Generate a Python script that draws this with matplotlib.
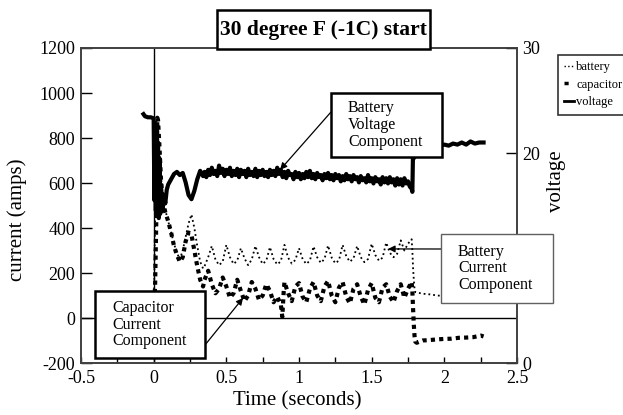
import matplotlib
matplotlib.use("Agg")
import matplotlib.pyplot as plt
from matplotlib.lines import Line2D
from matplotlib.patches import Rectangle
from matplotlib.ticker import MultipleLocator, FormatStrFormatter

plt.rcParams['font.family'] = ['Liberation Serif', 'DejaVu Serif']
plt.rcParams['axes.unicode_minus'] = False

# voltage (right axis, volts)
t_volt = [-0.07, -0.06, -0.04, -0.02, 0.0, 0.005, 0.01, 0.015, 0.02, 0.025,
          0.03, 0.035, 0.04, 0.045, 0.05, 0.06, 0.07, 0.08, 0.09, 0.10,
          0.12, 0.14, 0.16, 0.18, 0.20, 0.22, 0.24, 0.26, 0.28, 0.30,
          0.32, 0.34,
          0.3500, 0.3625, 0.3750, 0.3875, 0.4000, 0.4125, 0.4250, 0.4375,
          0.4500, 0.4625, 0.4750, 0.4875, 0.5000, 0.5125, 0.5250, 0.5375,
          0.5500, 0.5625, 0.5750, 0.5875, 0.6000, 0.6125, 0.6250, 0.6375,
          0.6500, 0.6625, 0.6750, 0.6875, 0.7000, 0.7125, 0.7250, 0.7375,
          0.7500, 0.7625, 0.7750, 0.7875, 0.8000, 0.8125, 0.8250, 0.8375,
          0.8500, 0.8625, 0.8750, 0.8875, 0.9000, 0.9125, 0.9250, 0.9375,
          0.9500, 0.9625, 0.9750, 0.9875, 1.0000, 1.0125, 1.0250, 1.0375,
          1.0500, 1.0625, 1.0750, 1.0875, 1.1000, 1.1125, 1.1250, 1.1375,
          1.1500, 1.1625, 1.1750, 1.1875, 1.2000, 1.2125, 1.2250, 1.2375,
          1.2500, 1.2625, 1.2750, 1.2875, 1.3000, 1.3125, 1.3250, 1.3375,
          1.3500, 1.3625, 1.3750, 1.3875, 1.4000, 1.4125, 1.4250, 1.4375,
          1.4500, 1.4625, 1.4750, 1.4875, 1.5000, 1.5125, 1.5250, 1.5375,
          1.5500, 1.5625, 1.5750, 1.5875, 1.6000, 1.6125, 1.6250, 1.6375,
          1.6500, 1.6625, 1.6750, 1.6875, 1.7000, 1.7125, 1.7250, 1.7375,
          1.7500, 1.7625, 1.7750,
          1.780, 1.785, 1.790, 1.795, 1.800, 1.820, 1.850, 1.880, 1.910, 1.940,
          1.970, 2.000, 2.030, 2.060, 2.090, 2.120, 2.150, 2.180, 2.210, 2.240,
          2.270]
volt = [23.7, 23.5, 23.4, 23.4, 23.3, 15.5, 22.8, 14.5, 22.5, 14.0,
        21.0, 13.8, 19.5, 14.2, 17.0, 14.5, 16.0, 15.2, 16.5, 17.0,
        17.5, 18.0, 18.2, 17.9, 18.1, 17.2, 16.0, 15.6, 16.4, 17.5,
        18.3, 17.8,
        18.2, 17.7, 18.4, 17.9, 18.6, 18.0, 18.3, 17.8,
        18.8, 18.1, 18.5, 17.8, 18.4, 18.0, 18.6, 17.8,
        18.3, 17.9, 18.5, 17.7, 18.4, 18.0, 18.3, 17.7,
        18.5, 17.9, 18.2, 17.8, 18.5, 17.7, 18.3, 17.9,
        18.4, 17.8, 18.2, 17.7, 18.4, 17.9, 18.3, 17.8,
        18.6, 18.0, 18.4, 17.7, 18.2, 17.6, 18.3, 17.9,
        18.0, 17.5, 18.2, 17.7, 18.1, 17.5, 18.0, 17.6,
        18.2, 17.7, 18.3, 17.6, 18.0, 17.5, 18.1, 17.7,
        17.9, 17.4, 18.0, 17.6, 18.1, 17.5, 17.9, 17.4,
        18.0, 17.6, 17.9, 17.3, 17.8, 17.4, 18.0, 17.5,
        17.8, 17.3, 17.9, 17.5, 17.7, 17.2, 17.8, 17.4,
        17.6, 17.2, 17.9, 17.3, 17.6, 17.1, 17.7, 17.3,
        17.5, 17.0, 17.7, 17.2, 17.6, 17.1, 17.7, 17.2,
        17.5, 16.9, 17.6, 17.0, 17.5, 16.9, 17.6, 17.1,
        17.3, 16.8, 16.6,
        16.3, 20.5, 19.5, 20.8, 20.6, 20.7, 20.6, 20.8, 20.6, 20.9,
        20.7, 20.8, 20.7, 20.9, 20.8, 21.0, 20.8, 21.1, 20.9, 21.0,
        21.0]

# battery current (left axis, amps)
t_batt = [0.0, 0.02, 0.04, 0.06, 0.08, 0.10, 0.12, 0.14, 0.16, 0.18,
          0.20, 0.22, 0.24, 0.26, 0.28, 0.30, 0.32, 0.34,
          0.350, 0.375, 0.400, 0.425, 0.450, 0.475, 0.500, 0.525, 0.550, 0.575,
          0.600, 0.625, 0.650, 0.675, 0.700, 0.725, 0.750, 0.775, 0.800, 0.825,
          0.850, 0.875, 0.900, 0.925, 0.950, 0.975, 1.000, 1.025, 1.050, 1.075,
          1.100, 1.125, 1.150, 1.175, 1.200, 1.225, 1.250, 1.275, 1.300, 1.325,
          1.350, 1.375, 1.400, 1.425, 1.450, 1.475, 1.500, 1.525, 1.550, 1.575,
          1.600, 1.625, 1.650, 1.675, 1.700, 1.725, 1.750, 1.775,
          1.780, 1.785, 1.790, 1.795, 1.800, 1.850, 1.900, 1.950, 2.000, 2.050,
          2.100, 2.150, 2.200, 2.250, 2.270]
battery = [0, 880, 700, 560, 480, 430, 380, 330, 290, 260,
           300, 360, 420, 460, 400, 320, 250, 220,
           230, 270, 320, 260, 235, 250, 325, 270, 240, 255,
           310, 265, 235, 260, 320, 270, 240, 255, 315, 262,
           238, 252, 325, 268, 242, 258, 310, 262, 240, 255,
           318, 270, 245, 262, 322, 268, 243, 256, 325, 275,
           250, 265, 320, 270, 248, 262, 330, 280, 255, 268,
           335, 290, 270, 285, 345, 300, 330, 350,
           300, 220, 170, 130, 115, 108, 105, 100, 98, 96,
           95, 93, 92, 90, 90]

# capacitor current (left axis, amps)
t_cap = [0.0, 0.01, 0.02, 0.025, 0.03, 0.04, 0.05, 0.06, 0.07, 0.08,
         0.10, 0.12, 0.14, 0.16, 0.18, 0.20, 0.22, 0.24, 0.26, 0.28,
         0.30, 0.32, 0.34,
         0.350, 0.375, 0.400, 0.425, 0.450, 0.475, 0.500, 0.525, 0.550, 0.575,
         0.600, 0.625, 0.650, 0.675, 0.700, 0.725, 0.750, 0.775, 0.800, 0.825,
         0.850, 0.875, 0.885, 0.895, 0.900, 0.925, 0.950, 0.975, 1.000, 1.025,
         1.050, 1.075, 1.100, 1.125, 1.150, 1.175, 1.200, 1.225, 1.250, 1.275,
         1.300, 1.325, 1.350, 1.375, 1.400, 1.425, 1.450, 1.475, 1.500, 1.525,
         1.550, 1.575, 1.600, 1.625, 1.650, 1.675, 1.700, 1.725, 1.750, 1.775,
         1.780, 1.785, 1.790, 1.795, 1.800, 1.810, 1.850, 1.900, 1.950, 2.000,
         2.050, 2.100, 2.150, 2.200, 2.250, 2.270]
capacitor = [0, 150, 500, 890, 880, 760, 620, 540, 500, 470,
             430, 380, 320, 280, 250, 270, 340, 380, 370, 300,
             230, 170, 140,
             170, 210, 150, 110, 130, 180, 140, 90, 110, 170,
             120, 75, 100, 160, 130, 80, 100, 150, 120, 70,
             95, 60, 5, 120, 160, 110, 75, 140, 155, 95,
             70, 130, 160, 100, 75, 140, 165, 100, 70, 135,
             160, 95, 65, 130, 150, 95, 60, 125, 155, 90,
             70, 135, 150, 95, 70, 120, 150, 90, 130, 160,
             120, 40, -30, -80, -105, -110, -100, -98, -95, -93,
             -92, -88, -87, -85, -78, -82]

W, H = 623, 415


def fx(x):
    return x / W


def fy(y):
    return 1 - y / H


fig = plt.figure(figsize=(6.23, 4.15), dpi=100)
ax = fig.add_axes([fx(81), fy(363), fx(517) - fx(81), fy(48) - fy(363)])
ax2 = ax.twinx()

ax.plot(t_batt, battery, color='black', lw=1.3, ls=':')
ax.plot(t_cap, capacitor, color='black', lw=3.0, ls=(0, (1, 1)))
ax2.plot(t_volt, volt, color='black', lw=3.0)

ax.axhline(0, color='black', lw=1)
ax.axvline(0, color='black', lw=1)

ax.set_xlim(-0.5, 2.5)
ax.set_ylim(-200, 1200)
ax2.set_ylim(0, 30)
ax.xaxis.set_major_locator(MultipleLocator(0.5))
ax.xaxis.set_minor_locator(MultipleLocator(0.25))
ax.xaxis.set_major_formatter(FormatStrFormatter('%g'))
ax.yaxis.set_major_locator(MultipleLocator(200))
ax.yaxis.set_major_formatter(FormatStrFormatter('%g'))
ax2.yaxis.set_major_locator(MultipleLocator(10))
ax2.yaxis.set_major_formatter(FormatStrFormatter('%g'))

for a in (ax, ax2):
    for s in a.spines.values():
        s.set_color('#404040')
        s.set_linewidth(1.2)
ax.tick_params(axis='y', direction='in', length=8, width=1, labelsize=13, pad=4)
ax.tick_params(axis='x', which='both', direction='in', length=4, width=1,
               labelsize=13, pad=5)
ax2.tick_params(axis='y', direction='in', length=8, width=1, labelsize=13, pad=4)

fig.text(fx(297), fy(401), 'Time (seconds)', fontsize=15, ha='center', va='center')
fig.text(fx(17), fy(220), 'current (amps)', fontsize=15, ha='center', va='center',
         rotation=90)
fig.text(fx(557), fy(181), 'voltage', fontsize=15, ha='center', va='center',
         rotation=90)


def box(x0, y0, x1, y1, lw=1.8, ec='black'):
    fig.add_artist(Rectangle((fx(x0), fy(y1)), fx(x1) - fx(x0), fy(y0) - fy(y1),
                             transform=fig.transFigure, facecolor='white',
                             edgecolor=ec, lw=lw, zorder=5))


# title box
box(217, 10, 430, 49, lw=1.8)
fig.text(fx(323.5), fy(30), '30 degree F (-1C) start', fontsize=15.5,
         fontweight='bold', ha='center', va='center', zorder=6)

# annotation boxes
notes = [
    (331, 93, 442, 157, 348, 'Battery\nVoltage\nComponent', 1.8, 'black'),
    (441, 234, 553, 303, 458, 'Battery\nCurrent\nComponent', 1.0, '#606060'),
    (95, 291, 205, 358, 112, 'Capacitor\nCurrent\nComponent', 1.8, 'black'),
]
for x0, y0, x1, y1, tx, label, lw, ec in notes:
    box(x0, y0, x1, y1, lw=lw, ec=ec)
    fig.text(fx(tx), fy((y0 + y1) / 2), label, fontsize=11.5, ha='left',
             va='center', linespacing=1.08, zorder=6)

arrow = dict(arrowstyle='-|>', color='black', lw=0.9, mutation_scale=10,
             shrinkA=0, shrinkB=0)
ax2.annotate('', xy=(0.87, 18.4), xycoords=ax2.transData,
             xytext=(fx(331), fy(112)), textcoords=fig.transFigure,
             arrowprops=arrow)
ax2.annotate('', xy=(1.613, 307), xycoords=ax.transData,
             xytext=(fx(441), fy(249)), textcoords=fig.transFigure,
             arrowprops=arrow)
ax2.annotate('', xy=(0.615, 89), xycoords=ax.transData,
             xytext=(fx(205), fy(345)), textcoords=fig.transFigure,
             arrowprops=arrow)

handles = [Line2D([], [], color='black', lw=1.0, ls=':'),
           Line2D([], [], color='black', lw=2.5, ls=(0, (1.2, 10))),
           Line2D([], [], color='black', lw=2.0)]
leg = fig.legend(handles, ['battery', 'capacitor', 'voltage'],
                 loc='upper left', bbox_to_anchor=(fx(558), fy(55)),
                 fontsize=9, frameon=True, fancybox=False, edgecolor='black',
                 handlelength=0.8, handletextpad=0.15, labelspacing=0.45,
                 borderpad=0.5, borderaxespad=0)
leg.get_frame().set_linewidth(1.2)

fig.savefig('out.png', dpi=100)
